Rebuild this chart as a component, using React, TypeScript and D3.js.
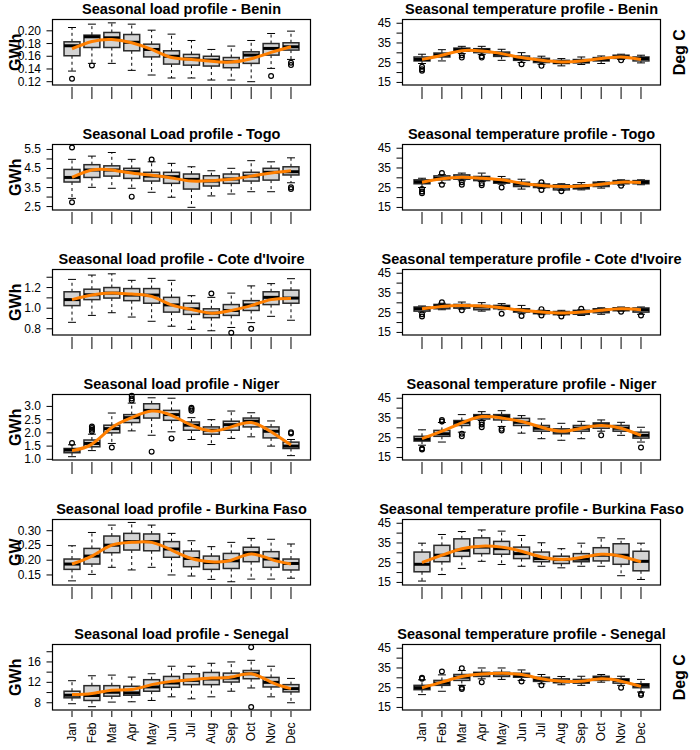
import React, { useEffect, useRef } from 'react';
import * as d3 from 'd3';

const months = ['Jan', 'Feb', 'Mar', 'Apr', 'May', 'Jun', 'Jul', 'Aug', 'Sep', 'Oct', 'Nov', 'Dec'];

// each row: [lower whisker, q1, median, q3, upper whisker], Jan..Dec
const beninLoad = [
  [0.1367, 0.1608, 0.1765, 0.1827, 0.2052], [0.1488, 0.1738, 0.1906, 0.1932, 0.2105],
  [0.1488, 0.1738, 0.189, 0.1974, 0.2125], [0.1378, 0.1686, 0.182, 0.1942, 0.2105],
  [0.1305, 0.159, 0.1707, 0.179, 0.201], [0.1258, 0.1477, 0.16, 0.1686, 0.1948],
  [0.1258, 0.146, 0.156, 0.1629, 0.1848], [0.1226, 0.1446, 0.154, 0.16, 0.1707],
  [0.1226, 0.142, 0.1514, 0.158, 0.176], [0.12, 0.1488, 0.1618, 0.167, 0.1848],
  [0.1409, 0.1618, 0.1723, 0.18, 0.1958], [0.155, 0.1697, 0.1749, 0.1812, 0.1995],
];
const beninLoadOut = [[1, 0.1247], [2, 0.1456], [11, 0.1289], [12, 0.1498], [12, 0.1461]];
const beninLoadFit = [0.1718, 0.1833, 0.1864, 0.1812, 0.1707, 0.158, 0.155, 0.152, 0.1508, 0.156, 0.166, 0.175];

const togoLoad = [
  [2.93, 3.79, 4.03, 4.45, 4.98], [3.51, 4.03, 4.42, 4.7, 5.15], [3.46, 4.1, 4.42, 4.64, 5.34],
  [3.46, 3.98, 4.33, 4.51, 4.98], [3.25, 3.84, 4.1, 4.3, 4.85], [2.99, 3.72, 4.07, 4.3, 4.77],
  [2.46, 3.42, 3.93, 4.21, 4.59], [3.06, 3.58, 3.84, 4.12, 4.38], [3.16, 3.72, 3.95, 4.21, 4.51],
  [3.28, 3.84, 4.1, 4.3, 4.91], [3.28, 3.89, 4.3, 4.51, 4.85], [3.75, 4.16, 4.33, 4.59, 5.06],
];
const togoLoadOut = [[1, 5.6], [1, 2.73], [4, 3.02], [5, 4.97], [12, 3.51], [12, 3.42]];
const togoLoadFit = [4.03, 4.42, 4.42, 4.26, 4.14, 4.0, 3.84, 3.86, 3.93, 4.1, 4.26, 4.38];

const coteLoad = [
  [0.863, 1.025, 1.083, 1.159, 1.279], [0.93, 1.083, 1.13, 1.184, 1.321], [0.956, 1.098, 1.146, 1.2, 1.333],
  [0.914, 1.073, 1.127, 1.19, 1.27], [0.873, 1.048, 1.127, 1.19, 1.289], [0.825, 0.962, 1.032, 1.105, 1.27],
  [0.794, 0.94, 0.994, 1.048, 1.121], [0.781, 0.908, 0.952, 0.994, 1.105], [0.813, 0.93, 0.978, 1.035, 1.146],
  [0.86, 0.978, 1.032, 1.073, 1.216], [0.921, 1.035, 1.105, 1.159, 1.238], [0.883, 1.048, 1.098, 1.175, 1.286],
];
const coteLoadOut = [[8, 1.143], [9, 0.762], [10, 0.8]];
const coteLoadFit = [1.083, 1.127, 1.146, 1.137, 1.114, 1.032, 0.987, 0.952, 0.978, 1.025, 1.083, 1.095];

const nigerLoad = [
  [1.1, 1.25, 1.35, 1.41, 1.55], [1.33, 1.475, 1.6, 1.73, 1.95], [1.6, 2.0, 2.16, 2.29, 2.75],
  [2.075, 2.39, 2.575, 2.69, 3.125], [1.91, 2.56, 2.85, 3.1, 3.325], [2.04, 2.475, 2.69, 2.85, 3.31],
  [1.75, 2.1, 2.29, 2.41, 2.575], [1.56, 1.95, 2.1, 2.225, 2.5], [1.79, 2.1, 2.31, 2.44, 2.825],
  [1.85, 2.225, 2.44, 2.56, 2.76], [1.5, 1.81, 2.06, 2.225, 2.45], [1.14, 1.41, 1.5, 1.65, 1.75],
];
const nigerLoadOut = [
  [1, 1.62], [2, 2.05], [2, 2.12], [2, 2.18], [2, 2.24], [3, 1.45], [4, 3.22], [4, 3.3], [4, 3.4],
  [5, 1.29], [6, 1.79], [7, 2.84], [7, 2.9], [7, 2.95], [12, 1.98], [12, 2.02],
];
const nigerLoadFit = [1.33, 1.575, 2.2, 2.575, 2.825, 2.66, 2.29, 2.075, 2.225, 2.39, 2.04, 1.54];

const burkinaLoad = [
  [0.13, 0.169, 0.187, 0.204, 0.249], [0.152, 0.187, 0.214, 0.24, 0.294], [0.176, 0.2255, 0.251, 0.282, 0.319],
  [0.167, 0.2345, 0.263, 0.291, 0.328], [0.176, 0.232, 0.263, 0.289, 0.319], [0.15, 0.21, 0.238, 0.263, 0.291],
  [0.1465, 0.178, 0.206, 0.231, 0.266], [0.135, 0.169, 0.192, 0.214, 0.246], [0.127, 0.172, 0.198, 0.223, 0.2605],
  [0.136, 0.195, 0.2255, 0.244, 0.274], [0.136, 0.176, 0.204, 0.229, 0.271], [0.139, 0.167, 0.189, 0.204, 0.255],
];
const burkinaLoadOut: number[][] = [];
const burkinaLoadFit = [0.187, 0.214, 0.251, 0.2605, 0.2605, 0.2345, 0.206, 0.195, 0.2, 0.221, 0.203, 0.187];

const senegalLoad = [
  [7.81, 8.97, 9.48, 10.26, 12.32], [7.23, 8.45, 9.42, 11.35, 13.29], [8.13, 9.29, 10.06, 11.35, 13.42],
  [8.19, 9.48, 9.94, 11.23, 13.03], [8.45, 10.26, 11.1, 12.52, 13.68], [9.16, 11.03, 11.87, 13.16, 15.16],
  [8.77, 11.55, 12.39, 13.68, 15.16], [9.16, 11.55, 12.65, 13.94, 15.74], [10.26, 12.06, 12.84, 13.81, 16.0],
  [10.9, 12.71, 13.68, 14.32, 16.32], [9.16, 11.1, 12.0, 12.97, 15.16], [8.0, 10.13, 10.77, 11.55, 12.77],
];
const senegalLoadOut = [[10, 18.9], [10, 7.16]];
const senegalLoadFit = [9.61, 9.81, 10.45, 10.58, 11.55, 12.19, 12.52, 12.84, 13.03, 13.68, 12.06, 10.77];

const beninTemp = [
  [24.6, 25.9, 26.7, 27.9, 29.3], [25.9, 27.9, 28.9, 29.9, 31.6], [29.6, 30.8, 31.6, 32.4, 33.3],
  [29.1, 30.1, 31.3, 32.1, 33.3], [26.2, 28.2, 29.3, 30.4, 31.8], [25.1, 26.2, 27.1, 28.4, 30.1],
  [24.2, 25.1, 26.1, 27.2, 28.3], [23.4, 24.6, 25.2, 26.2, 27.1], [24.1, 24.9, 25.7, 26.6, 27.9],
  [24.6, 25.9, 26.7, 27.6, 28.4], [26.6, 27.2, 27.9, 28.8, 29.3], [24.9, 25.9, 27.1, 27.9, 28.8],
];
const beninTempOut = [[1, 22.9], [1, 21.7], [1, 20.9], [3, 28.8], [3, 27.6], [4, 28.3], [4, 27.6], [6, 24.2], [7, 23.4], [11, 26.2]];
const beninTempFit = [26.7, 28.8, 31.1, 30.9, 29.6, 27.6, 26.2, 25.4, 25.9, 27.1, 27.9, 26.6];

const togoTemp = [
  [25.1, 27.0, 28.0, 29.0, 29.8], [27.3, 29.0, 29.8, 31.0, 31.6], [28.5, 29.3, 30.3, 31.5, 32.4],
  [28.1, 28.6, 29.8, 30.7, 32.4], [26.8, 27.3, 28.1, 29.3, 30.7], [24.3, 25.6, 26.8, 27.8, 29.3],
  [24.6, 25.1, 26.1, 26.9, 27.3], [23.6, 23.9, 25.3, 26.5, 27.0], [23.9, 24.4, 25.3, 26.5, 27.6],
  [24.8, 25.6, 26.8, 27.8, 28.1], [26.3, 27.0, 27.8, 28.6, 29.0], [26.5, 27.0, 27.8, 28.6, 29.0],
];
const togoTempOut = [
  [1, 24.3], [1, 23.1], [1, 22.2], [2, 32.4], [2, 26.5], [3, 27.8], [3, 26.5], [4, 27.3], [4, 26.3],
  [5, 25.1], [7, 27.8], [7, 23.9], [8, 23.2], [11, 26.0],
];
const togoTempFit = [27.8, 29.5, 30.3, 29.8, 29.0, 27.3, 26.1, 25.6, 25.9, 26.8, 27.8, 27.6];

const coteTemp = [
  [25.3, 25.8, 27.0, 27.9, 28.4], [26.5, 27.0, 28.4, 29.2, 29.8], [26.8, 27.3, 28.4, 29.2, 30.4],
  [25.8, 26.5, 27.9, 28.7, 30.1], [26.5, 27.0, 27.9, 28.7, 29.6], [24.5, 25.3, 26.2, 27.0, 28.7],
  [24.0, 24.5, 25.3, 26.0, 26.3], [23.6, 24.0, 24.8, 25.6, 26.2], [23.6, 24.2, 25.3, 26.2, 26.5],
  [24.2, 25.0, 26.2, 27.0, 27.5], [25.8, 26.0, 26.7, 27.5, 27.9], [24.2, 25.3, 26.5, 27.4, 27.9],
];
const coteTempOut = [
  [1, 24.2], [1, 23.1], [2, 30.3], [3, 26.2], [5, 24.5], [6, 23.3], [7, 26.8], [7, 23.6],
  [8, 23.1], [9, 27.0], [11, 25.5], [12, 23.6],
];
const coteTempFit = [27.0, 28.2, 28.7, 28.4, 27.5, 26.2, 25.3, 24.8, 25.3, 26.2, 27.0, 26.5];

const nigerTemp = [
  [21.2, 23.3, 24.2, 25.7, 29.0], [22.8, 25.7, 27.0, 28.7, 32.7], [27.8, 31.2, 32.8, 33.7, 36.7],
  [33.7, 34.5, 35.8, 36.7, 38.2], [30.7, 34.0, 35.7, 36.7, 38.7], [27.3, 31.2, 32.8, 34.8, 36.2],
  [24.5, 28.3, 29.8, 31.2, 34.5], [23.7, 27.0, 28.3, 29.5, 32.3], [24.5, 28.3, 29.8, 31.2, 33.3],
  [28.3, 29.8, 31.5, 32.5, 34.0], [26.2, 28.3, 29.8, 31.2, 32.8], [22.8, 24.8, 26.2, 27.8, 30.3],
];
const nigerTempOut = [
  [1, 19.5], [1, 19.0], [2, 33.2], [2, 34.0], [3, 27.0], [3, 25.7], [4, 32.8], [4, 31.7], [4, 30.3],
  [5, 29.5], [5, 28.7], [10, 26.2], [12, 20.0],
];
const nigerTempFit = [24.5, 28.3, 32.5, 35.7, 35.0, 33.2, 30.3, 28.3, 29.8, 31.2, 29.8, 26.2];

const burkinaTemp = [
  [15.7, 20.4, 24.2, 30.4, 34.9], [19.0, 25.5, 28.8, 33.8, 39.3], [22.1, 28.2, 31.3, 37.1, 40.8],
  [25.7, 29.6, 32.9, 37.6, 41.6], [24.1, 29.3, 32.1, 35.8, 41.0], [23.2, 27.1, 29.6, 32.9, 38.8],
  [23.2, 25.5, 27.1, 30.4, 35.1], [22.4, 24.6, 26.6, 28.3, 32.1], [23.2, 25.5, 26.8, 29.6, 34.9],
  [23.2, 25.9, 28.8, 32.6, 37.6], [18.4, 24.2, 28.8, 34.6, 37.1], [16.5, 20.9, 25.7, 30.8, 34.9],
];
const burkinaTempOut: number[][] = [];
const burkinaTempFit = [25.1, 28.8, 32.1, 33.4, 32.9, 30.8, 27.9, 26.6, 27.6, 29.3, 28.3, 25.4];

const senegalTemp = [
  [21.5, 24.0, 25.0, 26.2, 29.0], [23.2, 26.2, 27.3, 28.7, 31.5], [26.2, 28.7, 30.3, 31.7, 33.7],
  [29.5, 30.7, 32.0, 32.8, 35.0], [29.2, 30.7, 32.0, 32.8, 35.0], [28.7, 30.3, 31.2, 32.3, 34.0],
  [27.0, 28.2, 29.2, 30.3, 31.7], [26.5, 27.5, 28.3, 29.5, 30.7], [26.2, 27.3, 28.2, 29.2, 30.8],
  [27.8, 28.7, 29.8, 30.8, 31.7], [26.2, 27.3, 28.7, 29.5, 30.8], [22.8, 25.0, 26.2, 27.0, 29.2],
];
const senegalTempOut = [
  [1, 30.0], [1, 29.6], [2, 33.2], [3, 34.8], [3, 25.0], [3, 24.3], [4, 27.8], [6, 28.2],
  [7, 26.2], [11, 25.0], [12, 22.0], [12, 21.3],
];
const senegalTempFit = [25.0, 27.8, 30.7, 32.0, 32.3, 31.7, 29.5, 28.3, 28.3, 29.5, 28.3, 25.7];

// y axis ticks and the labels R kept
const beninTicks = [0.12, 0.14, 0.16, 0.18, 0.2];
const beninLabels = ['0.12', '0.14', '0.16', '0.18', '0.20'];
const togoTicks = [2.5, 3, 3.5, 4, 4.5, 5, 5.5];
const togoLabels = ['2.5', '3.5', '4.5', '5.5'];
const coteTicks = [0.8, 0.9, 1.0, 1.1, 1.2, 1.3];
const coteLabels = ['0.8', '1.0', '1.2'];
const nigerTicks = [1.0, 1.5, 2.0, 2.5, 3.0];
const nigerLabels = ['1.0', '1.5', '2.0', '2.5', '3.0'];
const burkinaTicks = [0.15, 0.2, 0.25, 0.3];
const burkinaLabels = ['0.15', '0.20', '0.25', '0.30'];
const senegalTicks = [8, 10, 12, 14, 16, 18];
const senegalLabels = ['8', '12', '16'];
const tempTicks = [15, 20, 25, 30, 35, 40, 45];
const tempLabels = ['15', '25', '35', '45'];

const tempDomain = [13.7, 46.9];

const panels = [
  { row: 0, col: 0, title: 'Seasonal load profile - Benin', stats: beninLoad, out: beninLoadOut, fit: beninLoadFit, domain: [0.1148, 0.2178], ticks: beninTicks, labels: beninLabels, ylab: 'GWh' },
  { row: 0, col: 1, title: 'Seasonal temperature profile - Benin', stats: beninTemp, out: beninTempOut, fit: beninTempFit, domain: tempDomain, ticks: tempTicks, labels: tempLabels, rlab: 'Deg C' },
  { row: 1, col: 0, title: 'Seasonal Load profile - Togo', stats: togoLoad, out: togoLoadOut, fit: togoLoadFit, domain: [2.32, 5.76], ticks: togoTicks, labels: togoLabels, ylab: 'GWh' },
  { row: 1, col: 1, title: 'Seasonal temperature profile - Togo', stats: togoTemp, out: togoTempOut, fit: togoTempFit, domain: tempDomain, ticks: tempTicks, labels: tempLabels },
  { row: 2, col: 0, title: "Seasonal load profile - Cote d'Ivoire", stats: coteLoad, out: coteLoadOut, fit: coteLoadFit, domain: [0.74, 1.375], ticks: coteTicks, labels: coteLabels, ylab: 'GWh' },
  { row: 2, col: 1, title: "Seasonal temperature profile - Cote d'Ivoire", stats: coteTemp, out: coteTempOut, fit: coteTempFit, domain: tempDomain, ticks: tempTicks, labels: tempLabels },
  { row: 3, col: 0, title: 'Seasonal load profile - Niger', stats: nigerLoad, out: nigerLoadOut, fit: nigerLoadFit, domain: [0.975, 3.45], ticks: nigerTicks, labels: nigerLabels, ylab: 'GWh' },
  { row: 3, col: 1, title: 'Seasonal temperature profile - Niger', stats: nigerTemp, out: nigerTempOut, fit: nigerTempFit, domain: tempDomain, ticks: tempTicks, labels: tempLabels },
  { row: 4, col: 0, title: 'Seasonal load profile - Burkina Faso', stats: burkinaLoad, out: burkinaLoadOut, fit: burkinaLoadFit, domain: [0.116, 0.338], ticks: burkinaTicks, labels: burkinaLabels, ylab: 'GW' },
  { row: 4, col: 1, title: 'Seasonal temperature profile - Burkina Faso', stats: burkinaTemp, out: burkinaTempOut, fit: burkinaTempFit, domain: tempDomain, ticks: tempTicks, labels: tempLabels },
  { row: 5, col: 0, title: 'Seasonal load profile - Senegal', stats: senegalLoad, out: senegalLoadOut, fit: senegalLoadFit, domain: [6.58, 19.42], ticks: senegalTicks, labels: senegalLabels, ylab: 'GWh' },
  { row: 5, col: 1, title: 'Seasonal temperature profile - Senegal', stats: senegalTemp, out: senegalTempOut, fit: senegalTempFit, domain: tempDomain, ticks: tempTicks, labels: tempLabels, rlab: 'Deg C' },
];

const FONT = '"Liberation Sans", Arial, Helvetica, sans-serif';

export default function App() {
  const svgRef = useRef<SVGSVGElement>(null);

  useEffect(() => {
    if (!svgRef.current) return;
    const svg = d3.select(svgRef.current);
    svg.selectAll('*').remove();

    const plotW = 258;
    const plotH = 65.5;
    const lefts = [52.5, 402.5];

    panels.forEach((p) => {
      const left = lefts[p.col];
      const top = 19.5 + 125 * p.row;
      const bottom = top + plotH;
      const x = d3.scaleLinear().domain([0.02, 12.98]).range([left, left + plotW]);
      const y = d3.scaleLinear().domain(p.domain).range([bottom, top]);
      const g = svg.append('g');
      const hw = x(1.4) - x(1);

      // boxes
      p.stats.forEach((s, i) => {
        const cx = x(i + 1);
        const [lo, q1, med, q3, hi] = s;
        [[q3, hi], [q1, lo]].forEach(([a, b]) => {
          g.append('line')
            .attr('x1', cx).attr('x2', cx)
            .attr('y1', y(a)).attr('y2', y(b))
            .attr('stroke', '#000').attr('stroke-width', 1)
            .attr('stroke-dasharray', '3,3');
          g.append('line')
            .attr('x1', cx - hw / 2).attr('x2', cx + hw / 2)
            .attr('y1', y(b)).attr('y2', y(b))
            .attr('stroke', '#000').attr('stroke-width', 1);
        });
        g.append('rect')
          .attr('x', cx - hw).attr('width', hw * 2)
          .attr('y', y(q3)).attr('height', Math.max(0.5, y(q1) - y(q3)))
          .attr('fill', '#d3d3d3')
          .attr('stroke', '#2a2a2a').attr('stroke-width', 1.5);
        g.append('line')
          .attr('x1', cx - hw).attr('x2', cx + hw)
          .attr('y1', y(med)).attr('y2', y(med))
          .attr('stroke', '#000').attr('stroke-width', 3);
      });

      // outliers
      g.selectAll('circle.out')
        .data(p.out)
        .enter()
        .append('circle')
        .attr('cx', (d) => x(d[0]))
        .attr('cy', (d) => y(d[1]))
        .attr('r', 2.4)
        .attr('fill', 'none')
        .attr('stroke', '#000')
        .attr('stroke-width', 1.2);

      // fitted seasonal curve
      const line = d3
        .line<number>()
        .x((_, i) => x(i + 1))
        .y((d) => y(d))
        .curve(d3.curveNatural);
      g.append('path')
        .attr('d', line(p.fit) || '')
        .attr('fill', 'none')
        .attr('stroke', '#ff7f00')
        .attr('stroke-width', 3);

      // frame
      g.append('rect')
        .attr('x', left).attr('y', top)
        .attr('width', plotW).attr('height', plotH)
        .attr('fill', 'none').attr('stroke', '#000').attr('stroke-width', 1.2);

      // y axis
      p.ticks.forEach((t) => {
        g.append('line')
          .attr('x1', left - 6).attr('x2', left)
          .attr('y1', y(t)).attr('y2', y(t))
          .attr('stroke', '#000');
      });
      p.labels.forEach((l) => {
        g.append('text')
          .attr('x', left - 11.5).attr('y', y(+l))
          .attr('text-anchor', 'end')
          .attr('dominant-baseline', 'central')
          .attr('font-family', FONT).attr('font-size', '12px')
          .text(l);
      });

      // x ticks
      const lastRow = p.row === 5;
      months.forEach((m, i) => {
        g.append('line')
          .attr('x1', x(i + 1)).attr('x2', x(i + 1))
          .attr('y1', bottom + (lastRow ? 1 : 2)).attr('y2', bottom + (lastRow ? 7 : 14))
          .attr('stroke', '#000');
        if (lastRow) {
          g.append('text')
            .attr('transform', `translate(${x(i + 1)},${bottom + 12.5}) rotate(-90)`)
            .attr('text-anchor', 'end')
            .attr('dominant-baseline', 'central')
            .attr('font-family', FONT).attr('font-size', '12px')
            .text(m);
        }
      });

      // title
      g.append('text')
        .attr('x', left + plotW / 2).attr('y', top - 5.5)
        .attr('text-anchor', 'middle')
        .attr('font-family', FONT).attr('font-size', '14.5px').attr('font-weight', 'bold')
        .text(p.title);

      if (p.ylab) {
        g.append('text')
          .attr('transform', `translate(20.5,${top + plotH / 2}) rotate(-90)`)
          .attr('text-anchor', 'middle')
          .attr('font-family', FONT).attr('font-size', '16px').attr('font-weight', 'bold')
          .text(p.ylab);
      }
      if (p.rlab) {
        g.append('text')
          .attr('transform', `translate(685,${top + plotH / 2}) rotate(-90)`)
          .attr('text-anchor', 'middle')
          .attr('font-family', FONT).attr('font-size', '16px').attr('font-weight', 'bold')
          .text(p.rlab);
      }
    });
  }, []);

  return (
    <svg
      ref={svgRef}
      width={700}
      height={750}
      style={{ position: 'absolute', left: 0, top: 0, background: '#fff' }}
    ></svg>
  );
}
